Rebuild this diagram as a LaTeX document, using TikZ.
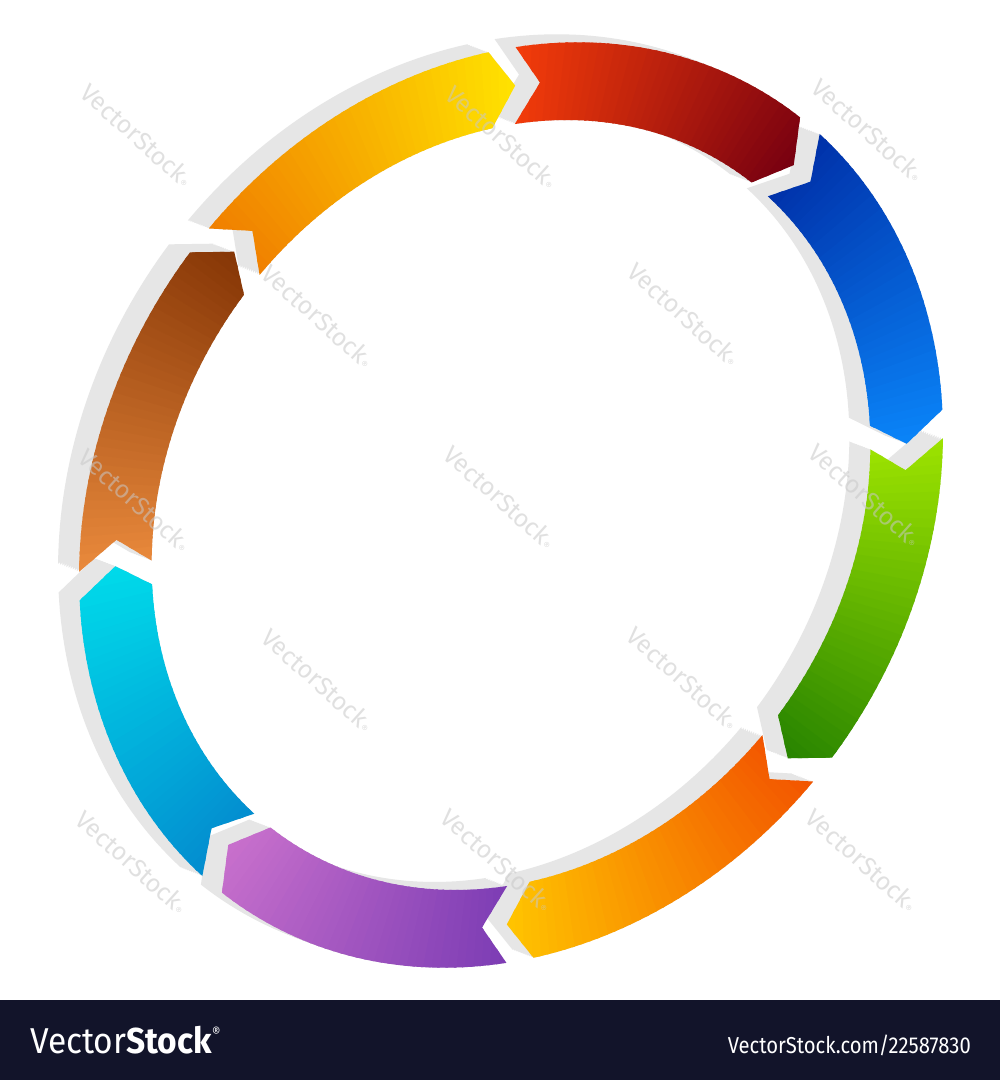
\documentclass[tikz,border=0pt]{standalone}
\usepackage{fontspec}
\setmainfont{Fira Sans}
\usepackage{graphicx}
\definecolor{shadowgray}{HTML}{E6E6E6}
\definecolor{barcol}{HTML}{12142A}
\definecolor{wmark}{HTML}{C8C8C8}
\definecolor{redA}{HTML}{F43C0A}\definecolor{redB}{HTML}{780010}
\definecolor{bluA}{HTML}{0030A8}\definecolor{bluB}{HTML}{0A84F8}
\definecolor{grnA}{HTML}{9EE400}\definecolor{grnB}{HTML}{288400}
\definecolor{orgA}{HTML}{F25400}\definecolor{orgB}{HTML}{FFC400}
\definecolor{purA}{HTML}{7C3CB4}\definecolor{purB}{HTML}{C870CC}
\definecolor{cyaA}{HTML}{038CCF}\definecolor{cyaB}{HTML}{00DAEA}
\definecolor{brnA}{HTML}{EA8A3C}\definecolor{brnB}{HTML}{863606}
\definecolor{yelA}{HTML}{F07E00}\definecolor{yelB}{HTML}{FFE200}
\newcommand\rout{1}
\newcommand\rin{0.832}
\newcommand\rmid{0.916}
\newcommand\chev{3.6}
\newcommand\segoutline[2]{plot[domain=#1:#2,samples=36,variable=\t]({px(\t,\rout)},{py(\t,\rout)}) -- ({px(#2+\chev,\rmid)},{py(#2+\chev,\rmid)}) -- plot[domain=#2:#1,samples=36,variable=\t]({px(\t,\rin)},{py(\t,\rin)}) -- ({px(#1+\chev,\rmid)},{py(#1+\chev,\rmid)}) -- cycle}
\tikzset{
  wmtext/.style={text=wmark, opacity=0.55, rotate=-42, inner sep=0,
    font=\fontsize{25}{25}\selectfont},
}
\begin{document}
\begin{tikzpicture}[x=1pt,y=1pt,
  declare function={px(\tq,\rq)=511+\rq*(263.6*cos(\tq)+342.2*sin(\tq));
                    py(\tq,\rq)=575+\rq*(405.9*cos(\tq)-222.2*sin(\tq));}]
\useasboundingbox (0,0) rectangle (1000,1080);
\fill[white] (0,0) rectangle (1000,1080);
% shadows (extruded up-left)
\foreach \a/\b in {-37/4.4, 8/49.4, 53/94.4, 98/139.4, 143/184.4, 188/229.4, 233/274.4, 278/319.4}{
  \foreach \s in {0,...,10}{
    \fill[shadowgray, shift={(-2.1*\s,0.8*\s)}] \segoutline{\a}{\b};
  }
}
% coloured arrow segments
\foreach \a/\b/\ca/\cb in {-37/4.4/redA/redB, 8/49.4/bluA/bluB, 53/94.4/grnA/grnB, 98/139.4/orgA/orgB, 143/184.4/purA/purB, 188/229.4/cyaA/cyaB, 233/274.4/brnA/brnB, 278/319.4/yelA/yelB}{
  \begin{scope}
    \clip \segoutline{\a}{\b};
    \pgfmathsetmacro\tend{\b+\chev}
    \pgfmathsetmacro\stp{(\tend-\a)/40}
    \foreach \i in {0,...,39}{
      \pgfmathsetmacro\ta{\a+\i*\stp-0.1}
      \pgfmathsetmacro\tb{\a+(\i+1)*\stp+0.25}
      \pgfmathtruncatemacro\pc{100-(\i+0.5)*2.5}
      \fill[fill=\ca!\pc!\cb] ({px(\ta,0.8)},{py(\ta,0.8)}) -- ({px(\ta,1.03)},{py(\ta,1.03)}) -- ({px(\tb,1.03)},{py(\tb,1.03)}) -- ({px(\tb,0.8)},{py(\tb,0.8)}) -- cycle;
    }
  \end{scope}
}
% watermarks
\foreach \wx/\wy [count=\k] in {137/945, 502/943, 868/950, 318/764, 684/766, 135/580, 500/583, 865/585, 318/400, 683/402, 132/218, 497/220, 862/220}{
  \node[wmtext] (wm\k) at (\wx,\wy) {VectorStock{\fontsize{10}{10}\selectfont ®}};
}
% bottom bar
\fill[barcol] (0,0) rectangle (1000,80);
\node[anchor=base west, inner sep=0, text=white, font=\fontsize{36}{36}\selectfont] (logo) at (30,27)
  {\scalebox{0.93}[1]{Vector\textbf{Stock}\raisebox{0.42em}{\fontsize{14}{14}\selectfont ®}}};
\node[anchor=base east, inner sep=0, text=white, font=\fontsize{23}{23}\selectfont] (url) at (971,27)
  {\scalebox{0.88}[1]{VectorStock.com/22587830}};
\end{tikzpicture}
\end{document}
